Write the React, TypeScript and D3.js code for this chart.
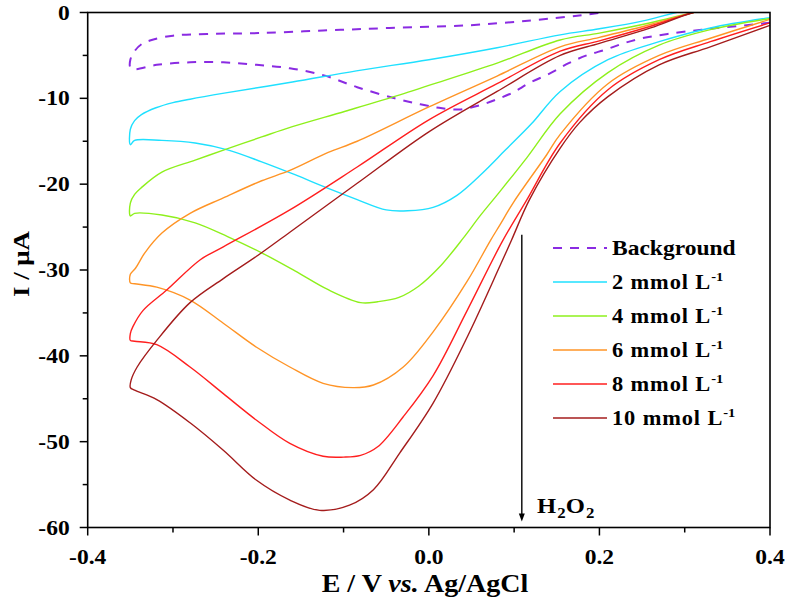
import React, { useEffect, useRef } from 'react';
import * as d3 from 'd3';

type Pt = [number, number];

// each voltammogram: cathodic sweep 0.4 -> -0.35 V, then the return sweep
const background: Pt[] = [
  [0.4, -1.2], [0.37, -1.5], [0.32, -2.0], [0.28, -2.5], [0.25, -3.0], [0.228, -3.6], [0.208, -4.3],
  [0.185, -5.0], [0.164, -5.9], [0.142, -7.1], [0.118, -8.2], [0.099, -9.3], [0.08, -10.1], [0.06, -10.8],
  [0.036, -11.3], [0.012, -11.1], [-0.01, -10.7], [-0.04, -10.0], [-0.084, -8.7], [-0.124, -7.3],
  [-0.163, -6.5], [-0.202, -6.1], [-0.241, -5.8], [-0.28, -5.8], [-0.319, -6.1], [-0.345, -6.6], [-0.35, -6.4],
  [-0.35, -5.5], [-0.345, -4.5], [-0.337, -3.7], [-0.325, -3.2], [-0.3, -2.7], [-0.26, -2.5], [-0.2, -2.4],
  [-0.124, -2.1], [-0.046, -1.8], [0.045, -1.5], [0.122, -0.9], [0.18, -0.3], [0.22, 0.2], [0.28, 0.8],
];

const h2o2_2: Pt[] = [
  [0.4, -0.6], [0.33, -1.8], [0.27, -3.4], [0.21, -5.5], [0.154, -9.2], [0.12, -13.0], [0.09, -16.0],
  [0.063, -18.7], [0.033, -21.3], [0.005, -22.7], [-0.025, -23.1], [-0.05, -23.0], [-0.084, -21.8],
  [-0.118, -20.5], [-0.157, -18.9], [-0.196, -17.4], [-0.236, -16.0], [-0.274, -15.2], [-0.313, -14.9],
  [-0.345, -14.9], [-0.35, -15.4], [-0.35, -13.6], [-0.345, -12.6], [-0.337, -11.9], [-0.32, -11.1],
  [-0.3, -10.5], [-0.28, -10.1], [-0.24, -9.4], [-0.16, -8.1], [-0.085, -6.8], [0.0, -5.5], [0.08, -4.1],
  [0.154, -2.6], [0.2, -1.9], [0.25, -1.0], [0.29, 0], [0.34, 1.0],
];

const h2o2_4: Pt[] = [
  [0.4, -0.7], [0.33, -2.0], [0.27, -3.8], [0.21, -7.0], [0.154, -11.8], [0.115, -16.9], [0.083, -20.9],
  [0.06, -23.7], [0.041, -26.2], [0.013, -29.6], [-0.012, -31.9], [-0.035, -33.2], [-0.06, -33.7], [-0.08, -33.8],
  [-0.118, -32.3], [-0.157, -30.1], [-0.196, -28.0], [-0.236, -26.1], [-0.274, -24.5], [-0.313, -23.6],
  [-0.345, -23.4], [-0.35, -23.7], [-0.35, -22.2], [-0.345, -21.2], [-0.337, -20.4], [-0.313, -18.6],
  [-0.274, -17.2], [-0.24, -16.0], [-0.196, -14.5], [-0.16, -13.3], [-0.098, -11.5], [-0.034, -9.6],
  [0.0, -8.5], [0.08, -5.9], [0.154, -3.2], [0.2, -2.4], [0.26, -1.2], [0.31, 0], [0.36, 1.0],
];

const h2o2_6: Pt[] = [
  [0.4, -0.8], [0.33, -3.0], [0.27, -5.0], [0.21, -8.3], [0.154, -14.2], [0.138, -16.6], [0.1, -22.0],
  [0.083, -24.8], [0.072, -26.6], [0.045, -31.3], [0.005, -37.2], [-0.03, -41.3], [-0.065, -43.4],
  [-0.089, -43.7], [-0.124, -43.2], [-0.163, -41.3], [-0.202, -39.0], [-0.241, -36.2], [-0.28, -33.5],
  [-0.319, -32.0], [-0.345, -31.6], [-0.35, -31.5], [-0.35, -30.5], [-0.344, -29.8], [-0.333, -28.0],
  [-0.313, -25.7], [-0.28, -23.4], [-0.241, -21.6], [-0.196, -19.6], [-0.163, -18.4], [-0.118, -16.3],
  [-0.084, -15.0], [0.0, -11.0], [0.08, -7.4], [0.154, -4.0], [0.2, -2.9], [0.26, -1.4], [0.31, 0], [0.36, 1.0],
];

const h2o2_8: Pt[] = [
  [0.4, -1.2], [0.33, -3.4], [0.27, -5.5], [0.21, -9.0], [0.154, -15.2], [0.115, -21.8], [0.086, -26.7],
  [0.045, -34.7], [0.005, -42.3], [-0.03, -47.1], [-0.06, -50.6], [-0.08, -51.6], [-0.1, -51.8], [-0.124, -51.7],
  [-0.163, -50.2], [-0.202, -47.5], [-0.241, -44.4], [-0.28, -41.3], [-0.319, -38.7], [-0.345, -38.3],
  [-0.35, -38.2], [-0.35, -37.4], [-0.347, -36.6], [-0.335, -34.7], [-0.307, -32.3], [-0.268, -28.8],
  [-0.241, -27.3], [-0.163, -23.0], [-0.084, -18.0], [0.0, -12.5], [0.08, -8.3], [0.154, -4.5], [0.2, -3.3],
  [0.26, -1.6], [0.31, 0], [0.36, 1.0],
];

const h2o2_10: Pt[] = [
  [0.4, -1.5], [0.33, -4.0], [0.27, -6.1], [0.21, -9.8], [0.177, -12.8], [0.154, -15.8], [0.118, -21.8],
  [0.097, -26.5], [0.083, -29.6], [0.045, -37.8], [0.005, -45.5], [-0.034, -51.3], [-0.065, -55.6],
  [-0.093, -57.4], [-0.128, -58.0], [-0.163, -56.8], [-0.202, -54.5], [-0.241, -51.0], [-0.28, -47.8],
  [-0.319, -45.1], [-0.345, -44.0], [-0.35, -43.7], [-0.349, -42.8], [-0.342, -41.3], [-0.319, -38.2],
  [-0.28, -33.8], [-0.241, -31.0], [-0.202, -28.4], [-0.163, -25.6], [-0.084, -19.9], [0.0, -13.9],
  [0.08, -9.2], [0.154, -5.0], [0.2, -3.6], [0.26, -1.8], [0.31, 0], [0.36, 1.0],
];

const seriesData = [background, h2o2_2, h2o2_4, h2o2_6, h2o2_8, h2o2_10];
const seriesLabels = ['Background', '2', '4', '6', '8', '10'];
const seriesColors = ['#8a2be2', '#1fe0ff', '#8ef01c', '#ff9426', '#ff1f1f', '#a41c1c'];

const xMajor = [-0.4, -0.2, 0, 0.2, 0.4];
const xMinor = [-0.3, -0.1, 0.1, 0.3];
const yMajor = [0, -10, -20, -30, -40, -50, -60];
const yMinor = [-5, -15, -25, -35, -45, -55];

// H2O2 arrow: E position, top and bottom current
const arrowE = 0.109;
const arrowI: [number, number] = [-25.9, -59.3];

const W = 788;
const H = 601;
const FONT = '"Liberation Serif", "Times New Roman", serif';
const SX = 1.12; // glyphs in this figure are a little wider than Times

function CVChart() {
  const svgRef = useRef<SVGSVGElement>(null);

  useEffect(() => {
    if (!svgRef.current) return;
    const svg = d3.select(svgRef.current);
    svg.selectAll('*').remove();

    const x = d3.scaleLinear().domain([-0.4, 0.4]).range([87.7, 770]);
    const y = d3.scaleLinear().domain([-60, 0]).range([527.5, 12.5]);
    const [x0, x1] = x.range();
    const [yb, yt] = y.range();

    svg.append('clipPath').attr('id', 'plot-clip')
      .append('rect')
      .attr('x', x0).attr('y', yt)
      .attr('width', x1 - x0).attr('height', yb - yt);

    const line = d3.line<Pt>()
      .x(d => x(d[0]))
      .y(d => y(d[1]))
      .curve(d3.curveCatmullRom.alpha(0.5));

    // curves
    const curves = svg.append('g').attr('clip-path', 'url(#plot-clip)');
    seriesData.forEach((data, i) => {
      curves.append('path')
        .datum(data)
        .attr('fill', 'none')
        .attr('stroke', seriesColors[i])
        .attr('stroke-width', i === 0 ? 2 : 1.4)
        .attr('stroke-dasharray', i === 0 ? '9 8' : null)
        .attr('d', line);
    });

    // frame
    svg.append('rect')
      .attr('x', x0).attr('y', yt)
      .attr('width', x1 - x0).attr('height', yb - yt)
      .attr('fill', 'none').attr('stroke', '#000').attr('stroke-width', 1.6);

    const label = (tx: number, ty: number, txt: string, anchor: string, size: number) =>
      svg.append('text')
        .attr('transform', `translate(${tx},${ty}) scale(${SX},1)`)
        .attr('text-anchor', anchor)
        .attr('font-family', FONT)
        .attr('font-weight', 'bold')
        .attr('font-size', size)
        .text(txt);

    // y axis ticks
    yMajor.forEach(v => {
      svg.append('line').attr('x1', x0 - 8).attr('x2', x0).attr('y1', y(v)).attr('y2', y(v))
        .attr('stroke', '#000').attr('stroke-width', 1.5);
      label(x0 - 18, y(v) + 7, String(v), 'end', 21);
    });
    yMinor.forEach(v => {
      svg.append('line').attr('x1', x0 - 5).attr('x2', x0).attr('y1', y(v)).attr('y2', y(v))
        .attr('stroke', '#000').attr('stroke-width', 1.5);
    });

    // x axis ticks
    xMajor.forEach(v => {
      svg.append('line').attr('x1', x(v)).attr('x2', x(v)).attr('y1', yb).attr('y2', yb + 8)
        .attr('stroke', '#000').attr('stroke-width', 1.5);
      label(x(v), 564, v.toFixed(1), 'middle', 21);
    });
    xMinor.forEach(v => {
      svg.append('line').attr('x1', x(v)).attr('x2', x(v)).attr('y1', yb).attr('y2', yb + 5)
        .attr('stroke', '#000').attr('stroke-width', 1.5);
    });

    // axis titles
    const xt = svg.append('text')
      .attr('transform', `translate(425,592) scale(${SX},1)`)
      .attr('text-anchor', 'middle')
      .attr('font-family', FONT).attr('font-weight', 'bold').attr('font-size', 25)
      .attr('xml:space', 'preserve');
    xt.append('tspan').text('E / V ');
    xt.append('tspan').attr('font-style', 'italic').text('vs.');
    xt.append('tspan').text(' Ag/AgCl');

    svg.append('text')
      .attr('transform', `translate(29,264) rotate(-90) scale(${SX},1)`)
      .attr('text-anchor', 'middle')
      .attr('font-family', FONT).attr('font-weight', 'bold').attr('font-size', 24)
      .text('I / \u03bcA');

    // legend
    seriesLabels.forEach((name, i) => {
      const ly = 248 + i * 34;
      svg.append('line')
        .attr('x1', 553).attr('x2', 607).attr('y1', ly).attr('y2', ly)
        .attr('stroke', seriesColors[i])
        .attr('stroke-width', i === 0 ? 2 : 1.6)
        .attr('stroke-dasharray', i === 0 ? '9 8' : null);
      const t = svg.append('text')
        .attr('transform', `translate(612,${ly + 7}) scale(${SX},1)`)
        .attr('font-family', FONT).attr('font-weight', 'bold').attr('font-size', 20);
      if (i === 0) {
        t.attr('font-size', 21).text(name);
      } else {
        t.append('tspan').attr('letter-spacing', 0.8).text(`${name} mmol L`);
        t.append('tspan').attr('dy', -8).attr('font-size', 13).text('-1');
      }
    });

    // H2O2 arrow
    const ax = x(arrowE);
    svg.append('line')
      .attr('x1', ax).attr('x2', ax)
      .attr('y1', y(arrowI[0])).attr('y2', y(arrowI[1]) - 6)
      .attr('stroke', '#000').attr('stroke-width', 1.4);
    svg.append('path')
      .attr('d', `M${ax - 3},${y(arrowI[1]) - 8} L${ax + 3},${y(arrowI[1]) - 8} L${ax},${y(arrowI[1])} Z`)
      .attr('fill', '#000');

    const ht = svg.append('text')
      .attr('transform', `translate(537,513) scale(${SX},1)`)
      .attr('font-family', FONT).attr('font-weight', 'bold').attr('font-size', 22);
    ht.append('tspan').text('H');
    ht.append('tspan').attr('dx', 1).attr('dy', 5).attr('font-size', 15).text('2');
    ht.append('tspan').attr('dy', -5).text('O');
    ht.append('tspan').attr('dx', 1).attr('dy', 5).attr('font-size', 15).text('2');
  }, []);

  return (
    <svg
      ref={svgRef}
      width={W}
      height={H}
      style={{ position: 'absolute', left: 0, top: 0, background: '#fff' }}
    />
  );
}

export default function App() {
  return <CVChart />;
}
